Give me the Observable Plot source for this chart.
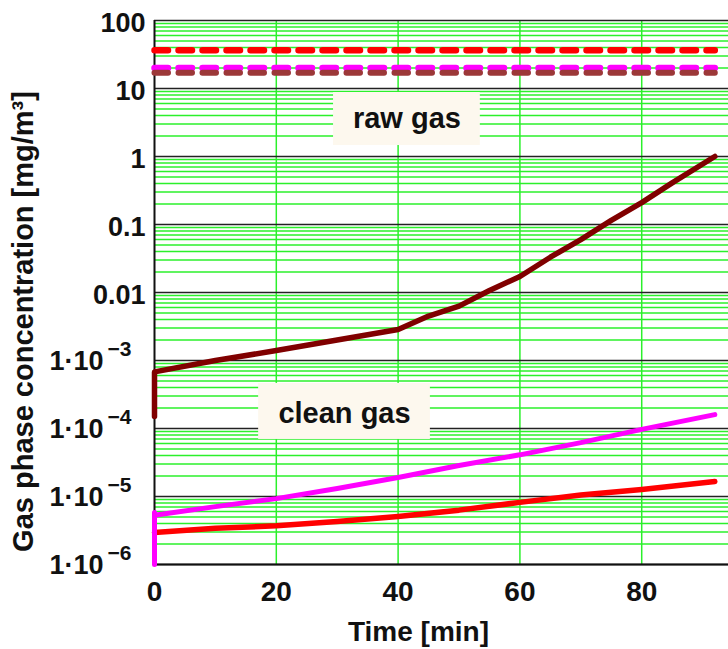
<!DOCTYPE html>
<html><head><meta charset="utf-8">
<script src="https://cdn.jsdelivr.net/npm/d3@7"></script>
<script src="https://cdn.jsdelivr.net/npm/@observablehq/plot@0.6"></script>
<style>body{margin:0;background:#fff} svg{display:block}</style>
</head><body><div id="chart"></div>
<script>
// ---- data ----
// raw gas (dashed, constant)
const rawT = [0, 92];
const rawRed = [36.5, 36.5];
const rawMagenta = [20, 20];
const rawBrown = [17, 17];
// clean gas curves
const brownT = [0, 0, 10, 20, 30, 40, 45, 50, 55, 60, 65, 70, 75, 80, 85, 92];
const brownC = [1.5e-4, 6.8e-4, 1.0e-3, 1.4e-3, 2.0e-3, 2.86e-3, 4.5e-3, 6.3e-3, 0.0107, 0.0172, 0.033, 0.06, 0.115, 0.21, 0.41, 1.0];
const magentaT = [0, 0, 0, 10, 20, 30, 40, 50, 60, 70, 80, 92];
const magentaC = [1e-6, 5.8e-6, 5.3e-6, 7.1e-6, 9.3e-6, 1.31e-5, 1.9e-5, 2.86e-5, 4.1e-5, 6.2e-5, 9.7e-5, 1.6e-4];
const redT = [0, 10, 20, 30, 40, 50, 60, 70, 80, 92];
const redC = [2.95e-6, 3.4e-6, 3.7e-6, 4.3e-6, 5.1e-6, 6.3e-6, 8.2e-6, 1.05e-5, 1.27e-5, 1.66e-5];
// ticks
const xTicks = [0, 20, 40, 60, 80];
const xGrid = [20, 40, 60, 80];
const decades = [100, 10, 1, 0.1, 0.01, 1e-3, 1e-4, 1e-5, 1e-6];
const plainLabels = ["100", "10", "1", "0.1", "0.01"];
const plainValues = [100, 10, 1, 0.1, 0.01];
const expValues = [1e-3, 1e-4, 1e-5, 1e-6];
const expLabels = ["\u22123", "\u22124", "\u22125", "\u22126"];
const minors = [];
for (const d of [1e-6, 1e-5, 1e-4, 1e-3, 1e-2, 0.1, 1, 10]) for (let k = 2; k <= 9; k++) minors.push(d * k);
// annotation boxes
const boxLabels = ["raw gas", "clean gas"];
const boxT1 = [29.4, 17.1], boxT2 = [53.5, 45.3];
const boxC1 = [1.45, 6.9e-5], boxC2 = [8.73, 4.6e-4];
const labelT = [41.45, 31.2], labelC = [3.62, 1.66e-4];

const pts = (T, C) => T.map((t, i) => ({t, c: C[i]}));
const boxes = boxLabels.map((s, i) => ({s, x1: boxT1[i], x2: boxT2[i], y1: boxC1[i], y2: boxC2[i], tx: labelT[i], ty: labelC[i]}));

const GREEN = "#2bf02b";
const F = "'Liberation Sans', Arial, sans-serif";

const chart = Plot.plot({
  width: 728, height: 649,
  marginTop: 20, marginLeft: 154, marginRight: 0, marginBottom: 85,
  x: {domain: [0, 94.25], axis: null},
  y: {type: "log", domain: [1e-6, 100], axis: null},
  style: {fontFamily: F, background: "#fff"},
  marks: [
    Plot.ruleY(minors, {stroke: GREEN, strokeWidth: 1.5}),
    Plot.ruleX(xGrid, {stroke: GREEN, strokeWidth: 1.5}),
    Plot.ruleY(decades, {stroke: "#222", strokeWidth: 1.6}),
    Plot.ruleX([0], {stroke: "#111", strokeWidth: 2}),
    Plot.ruleY([1e-6], {stroke: "#111", strokeWidth: 2}),
    Plot.rect(boxes, {x1: "x1", x2: "x2", y1: "y1", y2: "y2", fill: "#fdf8ee"}),
    Plot.text(boxes, {x: "tx", y: "ty", text: "s", fontSize: 29, fontWeight: "bold", fill: "#111"}),
    // raw gas dashed
    Plot.line(pts(rawT, rawRed), {x: "t", y: "c", stroke: "#ff0000", strokeWidth: 6.5, strokeDasharray: "13.5,10.5"}),
    Plot.line(pts(rawT, rawMagenta), {x: "t", y: "c", stroke: "#ff00ff", strokeWidth: 6.5, strokeDasharray: "13.5,10.5"}),
    Plot.line(pts(rawT, rawBrown), {x: "t", y: "c", stroke: "#9c3838", strokeWidth: 6, strokeDasharray: "13.5,10.5"}),
    // clean gas
    Plot.line(pts(brownT, brownC), {x: "t", y: "c", stroke: "#800000", strokeWidth: 5.5}),
    Plot.line(pts(redT, redC), {x: "t", y: "c", stroke: "#ff0000", strokeWidth: 5.5}),
    Plot.line(pts(magentaT, magentaC), {x: "t", y: "c", stroke: "#ff00ff", strokeWidth: 5}),
    // y tick labels
    Plot.text(plainValues, {y: d => d, frameAnchor: "left", dx: -9, dy: 11, lineAnchor: "bottom", textAnchor: "end",
      text: (d, i) => plainLabels[i], fontSize: 27, fontWeight: "bold", fill: "#111"}),
    Plot.text(expValues, {y: d => d, frameAnchor: "left", dx: -51, dy: 9, lineAnchor: "bottom", textAnchor: "end",
      text: () => "1\u00b710", fontSize: 27, fontWeight: "bold", fill: "#111"}),
    Plot.text(expValues, {y: d => d, frameAnchor: "left", dx: -47, dy: -5, lineAnchor: "bottom", textAnchor: "start",
      text: (d, i) => expLabels[i], fontSize: 21, fontWeight: "bold", fill: "#111"}),
    // x tick labels
    Plot.text(xTicks, {x: d => d, frameAnchor: "bottom", dy: 36, lineAnchor: "bottom", textAnchor: "middle", text: d => String(d),
      fontSize: 28, fontWeight: "bold", fill: "#111"}),
    // axis titles
    Plot.text(["Time [min]"], {frameAnchor: "bottom", dx: -23, dy: 76, lineAnchor: "bottom", textAnchor: "middle", text: d => d,
      fontSize: 28, fontWeight: "bold", fill: "#111"}),
    Plot.text(["Gas phase concentration [mg/m\u00b3]"], {frameAnchor: "left", dx: -131, dy: 29, rotate: -90,
      textAnchor: "middle", lineAnchor: "middle", text: d => d, fontSize: 29, fontWeight: "bold", fill: "#111"})
  ]
});
document.getElementById("chart").appendChild(chart);
</script>
</body></html>
